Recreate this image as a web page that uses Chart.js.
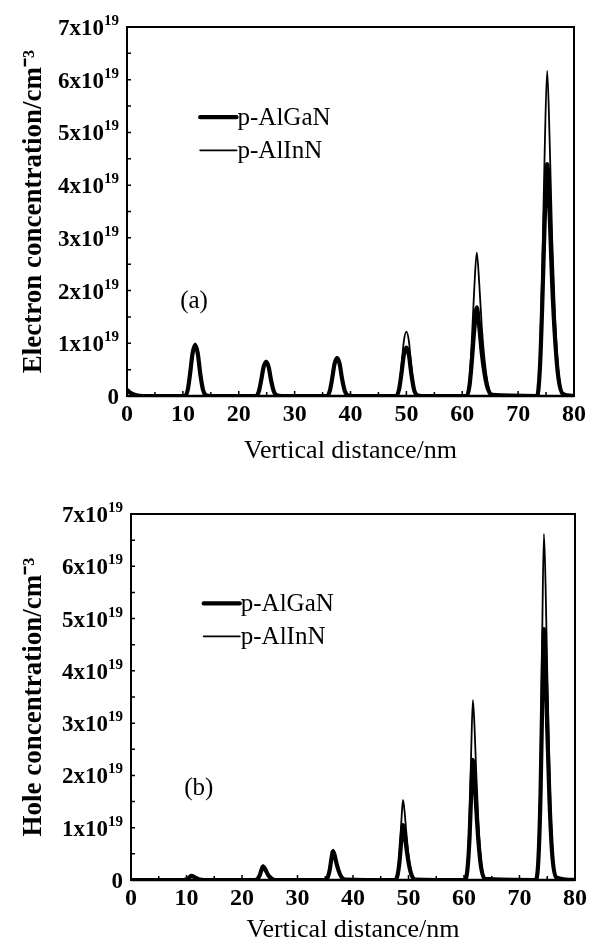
<!DOCTYPE html>
<html><head><meta charset="utf-8">
<script src="https://cdn.jsdelivr.net/npm/chart.js@4.4.1/dist/chart.umd.min.js"></script>
<style>
html,body{margin:0;padding:0;background:#fff;overflow:hidden;}
#w1{position:absolute;left:0;top:0;width:591px;height:470px;}
#w2{position:absolute;left:0;top:470px;width:591px;height:473px;}
</style></head><body>
<div id="w1"><canvas id="c1"></canvas></div>
<div id="w2"><canvas id="c2"></canvas></div>
<script>
// ---------- DATA (concentration in units of 1x10^19 cm^-3) ----------
const seriesNames = ["p-AlGaN", "p-AlInN"];
const panelLabels = ["(a)", "(b)"];
const xTickValues = [0, 10, 20, 30, 40, 50, 60, 70, 80];
const yTickMantissa = ["0", "1x10", "2x10", "3x10", "4x10", "5x10", "6x10", "7x10"];
const yTickExponent = "19";

// (a) electron concentration
const xA = [0, 0.6, 1.5, 3.0,
  10.4, 10.9, 11.3, 11.75, 12.2, 12.65, 13.1, 13.6, 14.2, 15.0,
  23.1, 23.6, 24.0, 24.45, 24.9, 25.35, 25.8, 26.3, 26.9, 27.7,
  35.8, 36.3, 36.7, 37.15, 37.6, 38.05, 38.5, 39.0, 39.6, 40.4,
  48.2, 48.7, 49.1, 49.55, 50.0, 50.45, 50.9, 51.4, 52.0, 52.8,
  60.8, 61.3, 61.7, 62.15, 62.6, 63.05, 63.5, 64.0, 64.6, 65.4,
  73.4, 73.9, 74.3, 74.75, 75.2, 75.65, 76.1, 76.6, 77.2, 78.0,
  80];
const electronAlGaN = [0.12, 0.06, 0.02, 0,
  0, 0.13, 0.43, 0.82, 0.96, 0.82, 0.43, 0.12, 0.01, 0,
  0, 0.09, 0.29, 0.55, 0.65, 0.55, 0.29, 0.08, 0.01, 0,
  0, 0.10, 0.32, 0.61, 0.72, 0.61, 0.32, 0.09, 0.01, 0,
  0, 0.13, 0.41, 0.78, 0.92, 0.78, 0.41, 0.11, 0.01, 0,
  0, 0.20, 0.64, 1.26, 1.68, 1.31, 0.81, 0.42, 0.13, 0.02,
  0, 0.53, 1.67, 3.30, 4.40, 3.43, 2.11, 1.10, 0.35, 0.04,
  0];
const electronAlInN = [0.12, 0.06, 0.02, 0,
  0, 0.14, 0.45, 0.85, 1.00, 0.85, 0.45, 0.12, 0.01, 0,
  0, 0.09, 0.30, 0.57, 0.67, 0.57, 0.30, 0.08, 0.01, 0,
  0, 0.10, 0.33, 0.63, 0.74, 0.63, 0.33, 0.09, 0.01, 0,
  0, 0.17, 0.55, 1.04, 1.22, 1.04, 0.55, 0.15, 0.01, 0,
  0, 0.33, 1.03, 2.04, 2.72, 2.12, 1.31, 0.68, 0.22, 0.03,
  0, 0.74, 2.34, 4.63, 6.17, 4.81, 2.96, 1.54, 0.49, 0.06,
  0];

// (b) hole concentration
const xB = [0, 5,
  9.4, 9.9, 10.3, 10.6, 10.9, 11.2, 11.5, 11.9, 12.4, 13.1,
  22.3, 22.8, 23.2, 23.5, 23.8, 24.1, 24.4, 24.8, 25.3, 26.0,
  34.9, 35.4, 35.8, 36.1, 36.4, 36.7, 37.0, 37.4, 37.9, 38.6,
  47.5, 48.0, 48.4, 48.7, 49.0, 49.3, 49.6, 50.0, 50.5, 51.2,
  60.1, 60.6, 61.0, 61.3, 61.6, 61.9, 62.2, 62.6, 63.1, 63.8,
  72.9, 73.4, 73.8, 74.1, 74.4, 74.7, 75.0, 75.4, 75.9, 76.6,
  80];
const holeAlGaN = [0, 0,
  0, 0.01, 0.03, 0.06, 0.08, 0.07, 0.05, 0.03, 0.01, 0,
  0, 0.02, 0.09, 0.19, 0.26, 0.22, 0.16, 0.08, 0.03, 0,
  0, 0.04, 0.19, 0.40, 0.55, 0.47, 0.33, 0.18, 0.06, 0.01,
  0, 0.08, 0.37, 0.76, 1.05, 0.89, 0.63, 0.34, 0.11, 0.01,
  0, 0.18, 0.81, 1.66, 2.30, 1.96, 1.38, 0.74, 0.23, 0.02,
  0, 0.38, 1.68, 3.46, 4.80, 4.08, 2.88, 1.54, 0.48, 0.05,
  0];
const holeAlInN = [0, 0,
  0, 0.01, 0.03, 0.06, 0.08, 0.07, 0.05, 0.03, 0.01, 0,
  0, 0.02, 0.10, 0.20, 0.28, 0.24, 0.17, 0.09, 0.03, 0,
  0, 0.05, 0.20, 0.42, 0.58, 0.49, 0.35, 0.19, 0.06, 0.01,
  0, 0.12, 0.54, 1.10, 1.53, 1.30, 0.92, 0.49, 0.15, 0.02,
  0, 0.28, 1.20, 2.48, 3.44, 2.92, 2.06, 1.10, 0.34, 0.03,
  0, 0.53, 2.32, 4.77, 6.62, 5.63, 3.97, 2.12, 0.66, 0.07,
  0];

// ---------- RENDERING ----------
const SERIF = "'Liberation Serif', 'Times New Roman', serif";

function pts(xs, ys) { return xs.map((x, i) => ({ x: x, y: ys[i] })); }

const overlay = {
  id: 'overlay',
  afterDatasetsDraw(chart, args, o) {
    const { ctx, chartArea: a } = chart;
    const xs = chart.scales.x, ys = chart.scales.y;
    ctx.save();
    ctx.strokeStyle = '#000';
    ctx.fillStyle = '#000';
    // frame
    ctx.lineWidth = 2;
    ctx.strokeRect(a.left, a.top, a.right - a.left, a.bottom - a.top);
    ctx.lineWidth = 2.5;
    ctx.beginPath(); ctx.moveTo(a.left, a.bottom); ctx.lineTo(a.right, a.bottom); ctx.stroke();
    // inward ticks
    ctx.lineWidth = 1.5;
    ctx.beginPath();
    for (let v = 5; v < 80; v += 5) {
      const px = xs.getPixelForValue(v);
      ctx.moveTo(px, a.bottom); ctx.lineTo(px, a.bottom - (v % 10 === 0 ? 5 : 4));
    }
    for (let v = 0.5; v < 7; v += 0.5) {
      const py = ys.getPixelForValue(v);
      ctx.moveTo(a.left, py); ctx.lineTo(a.left + 4, py);
    }
    ctx.stroke();
    // y tick labels with superscript exponent
    ctx.textAlign = 'right'; ctx.textBaseline = 'alphabetic';
    yTickMantissa.forEach((m, i) => {
      const py = ys.getPixelForValue(i);
      const xr = a.left - 8;
      if (i === 0) {
        ctx.font = "bold 23px " + SERIF;
        ctx.fillText(m, xr, py + 8);
      } else {
        ctx.font = "bold 15px " + SERIF;
        const w = ctx.measureText(yTickExponent).width;
        ctx.fillText(yTickExponent, xr, py - 2);
        ctx.font = "bold 23px " + SERIF;
        ctx.fillText(m, xr - w, py + 8);
      }
    });
    // legend
    chart.data.datasets.forEach((ds, i) => {
      const row = o.legendRows[i];
      const py = ys.getPixelForValue(row);
      const x0 = xs.getPixelForValue(o.legendX0), x1 = xs.getPixelForValue(o.legendX1);
      ctx.lineWidth = ds.borderWidth;
      ctx.lineCap = 'round';
      ctx.beginPath(); ctx.moveTo(x0, py); ctx.lineTo(x1, py); ctx.stroke();
      ctx.font = "25px " + SERIF;
      ctx.textAlign = 'left'; ctx.textBaseline = 'middle';
      ctx.fillText(ds.label, x1 + 1, py + 1);
    });
    // panel label
    ctx.font = "25px " + SERIF;
    ctx.textAlign = 'center'; ctx.textBaseline = 'middle';
    ctx.fillText(o.panel, xs.getPixelForValue(o.panelX), ys.getPixelForValue(o.panelY));
    ctx.restore();
  }
};

function makeChart(id, xs, yGaN, yInN, cfg) {
  return new Chart(document.getElementById(id), {
    type: 'line',
    data: {
      datasets: [
        { label: seriesNames[0], data: pts(xs, yGaN), borderColor: '#000', borderWidth: 4.2, pointRadius: 0, cubicInterpolationMode: 'monotone', fill: false, borderJoinStyle: 'round' },
        { label: seriesNames[1], data: pts(xs, yInN), borderColor: '#000', borderWidth: 1.8, pointRadius: 0, cubicInterpolationMode: 'monotone', fill: false, borderJoinStyle: 'round' }
      ]
    },
    options: {
      responsive: true, maintainAspectRatio: false, animation: false, devicePixelRatio: 1,
      layout: { padding: { top: cfg.top, right: cfg.right, left: 0, bottom: 0 } },
      plugins: {
        legend: { display: false }, tooltip: { enabled: false },
        overlay: { legendRows: [5.29, 4.66], legendX0: 13.1, legendX1: 19.6, panel: cfg.panel, panelX: cfg.panelX, panelY: cfg.panelY }
      },
      scales: {
        x: {
          type: 'linear', min: 0, max: 80,
          afterBuildTicks: s => { s.ticks = xTickValues.map(v => ({ value: v })); },
          afterFit: s => { s.height = cfg.xh; },
          ticks: { color: '#000', font: { family: SERIF, size: 24, weight: 'bold' }, padding: 4, maxRotation: 0, autoSkip: false },
          grid: { display: false, drawTicks: false },
          border: { display: true, color: '#000', width: 2 },
          title: { display: true, text: 'Vertical distance/nm', color: '#000', font: { family: SERIF, size: 26, weight: 'normal', lineHeight: 1 }, padding: { top: 0, bottom: cfg.xtPad } }
        },
        y: {
          type: 'linear', min: 0, max: 7,
          afterBuildTicks: s => { s.ticks = yTickMantissa.map((t, i) => ({ value: i })); },
          afterFit: s => { s.width = cfg.yw; },
          ticks: { display: false },
          grid: { display: false, drawTicks: false },
          border: { display: true, color: '#000', width: 2 },
          title: { display: true, text: cfg.ytitle, color: '#000', font: { family: SERIF, size: 27, weight: 'bold', lineHeight: 1 }, padding: { top: cfg.ytPad, bottom: 0 } }
        }
      }
    },
    plugins: [overlay]
  });
}

makeChart('c1', xA, electronAlGaN, electronAlInN, {
  top: 27, right: 17, yw: 127, xh: 74, xtPad: 6, ytPad: 21,
  ytitle: 'Electron concentration/cm\u207B\u00B3', panel: panelLabels[0], panelX: 12.0, panelY: 1.8
});
makeChart('c2', xB, holeAlGaN, holeAlInN, {
  top: 44, right: 15, yw: 131, xh: 63, xtPad: 0, ytPad: 21,
  ytitle: 'Hole concentration/cm\u207B\u00B3', panel: panelLabels[1], panelX: 12.2, panelY: 1.75
});
</script>
</body></html>
